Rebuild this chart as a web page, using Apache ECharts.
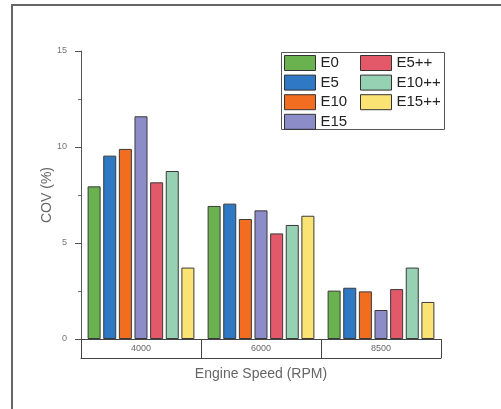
<!DOCTYPE html>
<html><head><meta charset="utf-8">
<script src="https://cdn.jsdelivr.net/npm/echarts@6/dist/echarts.min.js"></script>
<style>
html,body{margin:0;padding:0;background:#fff;}
#c{width:501px;height:409px;position:relative;}
#frame{position:absolute;left:11px;top:4px;width:490px;height:403px;border-left:2px solid #666;border-top:2px solid #666;border-bottom:1px solid #ccc;pointer-events:none;}
</style></head>
<body>
<div id="c"></div><div id="frame"></div>
<script>
const categories = ['4000', '6000', '8500'];
const seriesNames = ['E0', 'E5', 'E10', 'E15', 'E5++', 'E10++', 'E15++'];
const E0 = [7.95, 6.93, 2.52];
const E5 = [9.55, 7.05, 2.67];
const E10 = [9.9, 6.25, 2.48];
const E15 = [11.6, 6.7, 1.51];
const E5pp = [8.16, 5.5, 2.6];
const E10pp = [8.75, 5.94, 3.72];
const E15pp = [3.72, 6.42, 1.93];
const yTicks = [0, 5, 10, 15];
const colors = ['#6ab150', '#2e78c5', '#f36d21', '#8c8cc8', '#e3596a', '#97d1b3', '#fbe373'];
const values = [E0, E5, E10, E15, E5pp, E10pp, E15pp];

const chart = echarts.init(document.getElementById('c'));
const font = 'Liberation Sans, Arial, sans-serif';
const legendCommon = {
  orient: 'vertical', top: 55, icon: 'rect',
  itemWidth: 31, itemHeight: 15, itemGap: 3.6, padding: 0,
  textStyle: {fontSize: 15, lineHeight: 15, color: '#222', fontFamily: font},
  itemStyle: {borderColor: '#333', borderWidth: 1}
};
chart.setOption({
  animation: false,
  textStyle: {fontFamily: font},
  grid: {left: 81, top: 51, right: 60, bottom: 70},
  legend: [
    Object.assign({data: seriesNames.slice(0, 4), left: 284}, legendCommon),
    Object.assign({data: seriesNames.slice(4), left: 360}, legendCommon)
  ],
  graphic: [{
    type: 'rect', left: 281, top: 52, z: 0,
    shape: {width: 163, height: 77},
    style: {fill: '#fff', stroke: '#555', lineWidth: 1}
  }],
  xAxis: [
    {
      type: 'category', data: categories, position: 'bottom',
      axisLine: {lineStyle: {color: '#444', width: 1}},
      axisTick: {show: true, length: 19, lineStyle: {color: '#444'}},
      axisLabel: {fontSize: 9, color: '#666', margin: 5},
      name: 'Engine Speed (RPM)', nameLocation: 'middle', nameGap: 28,
      nameTextStyle: {fontSize: 14, color: '#666'}
    },
    {
      type: 'category', data: categories, position: 'bottom', offset: 19,
      axisLine: {lineStyle: {color: '#444', width: 1}},
      axisTick: {show: false}, axisLabel: {show: false}
    }
  ],
  yAxis: {
    type: 'value', min: yTicks[0], max: yTicks[yTicks.length - 1], interval: 5,
    axisLine: {show: true, lineStyle: {color: '#555'}},
    axisTick: {show: true, length: 6, lineStyle: {color: '#555'}},
    minorTick: {show: true, splitNumber: 2, length: 3, lineStyle: {color: '#777'}},
    splitLine: {show: false},
    axisLabel: {fontSize: 9, color: '#777', margin: 14},
    name: 'COV (%)', nameLocation: 'middle', nameGap: 27, nameMoveOverlap: false,
    nameTextStyle: {fontSize: 14, color: '#666'}
  },
  series: seriesNames.map((n, i) => ({
    name: n, type: 'bar', data: values[i],
    barGap: '20%', barCategoryGap: '11%',
    itemStyle: {color: colors[i], borderColor: '#3a3a3a', borderWidth: 1}
  }))
});
</script>
</body></html>
